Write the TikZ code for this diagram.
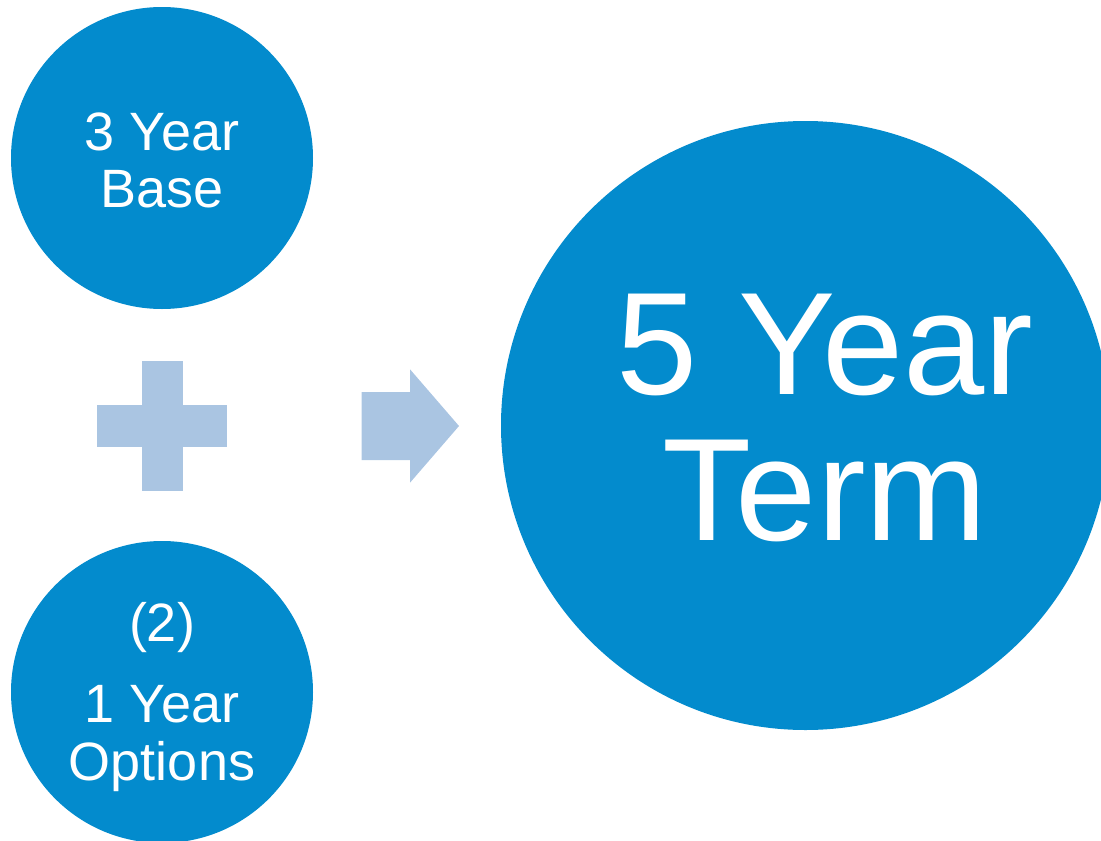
\documentclass[tikz,border=0pt]{standalone}
\usepackage{fontspec}
\setmainfont{Liberation Sans}
\definecolor{termblue}{HTML}{038BCD}
\definecolor{paleblue}{HTML}{AAC5E2}

\begin{document}
\begin{tikzpicture}[x=1pt, y=-1pt,
    bubble/.style={circle, fill=termblue, inner sep=0pt},
    words/.style={text=white, align=center, inner sep=0pt}]
    \useasboundingbox (0,0) rectangle (1101,841);
    \clip (0,0) rectangle (1101,841);
    % Base years
    \node[bubble, minimum size=302] (base) at (162,158) {};
    \node[words, font=\fontsize{54}{57}\selectfont] (basetxt) at (162,160) {3 Year\\Base};
    % Plus sign
    \fill[paleblue] (141.7,360.7) rectangle (183.3,490.7);
    \fill[paleblue] (97.3,405) rectangle (227.3,446.7);
    % Option years
    \node[bubble, minimum size=302] (options) at (162,692) {};
    \node[words, font=\fontsize{54}{58}\selectfont] (optionstxt) at (162,697) {(2)\\[23pt]1 Year\\Options};
    % Block arrow
    \fill[paleblue] (361.7,392) -- (410,392) -- (410,369.3) -- (459,426)
        -- (410,482.7) -- (410,460) -- (361.7,460) -- cycle;
    % Full term
    \node[bubble, minimum size=609] (term) at (805.5,425.5) {};
    \node[words, font=\fontsize{146}{146}\selectfont] (termtxt) at (825,418) {5 Year\\Term};
\end{tikzpicture}
\end{document}
